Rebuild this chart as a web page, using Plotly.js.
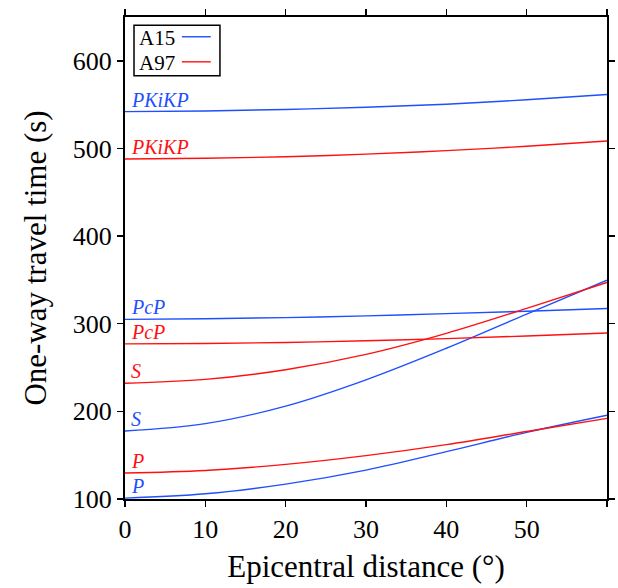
<!DOCTYPE html>
<html>
<head>
<meta charset="utf-8">
<script src="https://cdn.plot.ly/plotly-3.0.1.min.js"></script>
<style>html,body{margin:0;padding:0;background:#fff;}#chart{width:618px;height:588px;}</style>
</head>
<body>
<div id="chart"></div>
<script>
// Epicentral distance (degrees)
const distance = [0, 10, 20, 30, 40, 50, 60];

// One-way travel times (s), model A15
const a15_P      = [101, 106, 117, 133, 154, 176, 195.5];
const a15_S      = [177.6, 186, 206, 236, 272, 311, 349.6];
const a15_PcP    = [305, 305.6, 307, 309, 311.5, 314.3, 317.3];
const a15_PKiKP  = [542, 542.8, 544.5, 547, 550.5, 555.5, 561.5];

// One-way travel times (s), model A97
const a97_P      = [129.7, 132.5, 139.5, 149.5, 162, 177, 192];
const a97_S      = [232, 236.5, 247.5, 265, 289, 317.5, 347];
const a97_PcP    = [277, 277.4, 278.6, 280.5, 283, 286, 289.5];
const a97_PKiKP  = [488, 488.8, 490.5, 493.5, 497.5, 502.5, 508.5];

const models = ['A15', 'A97'];
const phases = ['PKiKP', 'PcP', 'S', 'P'];

const xTicks = [0, 10, 20, 30, 40, 50, 60];
const yTicks = [100, 200, 300, 400, 500, 600];

const BLUE = '#1f4fff';
const RED = '#ff1010';
const FONT = 'Liberation Serif';

const seriesData = {
  A15: {PKiKP: a15_PKiKP, PcP: a15_PcP, S: a15_S, P: a15_P, color: BLUE},
  A97: {PKiKP: a97_PKiKP, PcP: a97_PcP, S: a97_S, P: a97_P, color: RED}
};

const traces = [];
const annotations = [];
models.forEach(m => {
  phases.forEach(ph => {
    const ys = seriesData[m][ph];
    traces.push({
      x: distance, y: ys, type: 'scatter', mode: 'lines',
      line: {color: seriesData[m].color, width: 1.4, shape: 'spline', smoothing: 1},
      name: m + ' ' + ph, showlegend: false, hoverinfo: 'skip'
    });
    annotations.push({
      x: distance[0], y: ys[0], xref: 'x', yref: 'y',
      text: '<i>' + ph + '</i>', showarrow: false,
      xanchor: 'left', yanchor: 'bottom', xshift: 4, yshift: -1,
      font: {family: FONT, size: 20, color: seriesData[m].color, style: 'italic'}
    });
  });
});

// manual legend (text on left, line sample on right)
const legX0 = 0.0187, legX1 = 0.197, legY0 = 0.878, legY1 = 0.983;
const shapes = [
  {type: 'rect', xref: 'paper', yref: 'paper', x0: legX0, x1: legX1, y0: legY0, y1: legY1,
   line: {color: '#000', width: 1.5}, fillcolor: '#fff'}
];
const legRows = [0.955, 0.903];
models.forEach((m, i) => {
  annotations.push({
    x: 0.025, y: legRows[i] + 0.002, xref: 'paper', yref: 'paper', text: m, showarrow: false,
    xanchor: 'left', yanchor: 'middle', font: {family: FONT, size: 21, color: '#000'}
  });
  shapes.push({type: 'line', xref: 'paper', yref: 'paper', x0: 0.118, x1: 0.178,
    y0: legRows[i] + 0.004, y1: legRows[i] + 0.004, line: {color: seriesData[m].color, width: 1.4}});
});

const axisCommon = {
  showgrid: false, zeroline: false, showline: true, linecolor: '#000', linewidth: 2,
  mirror: 'allticks', ticks: 'outside', ticklen: 6, tickwidth: 1.5, tickcolor: '#000',
  tickfont: {family: FONT, size: 26, color: '#000'}
};

const layout = {
  width: 618, height: 588,
  margin: {l: 125, r: 11, t: 17, b: 89},
  paper_bgcolor: '#fff', plot_bgcolor: '#fff',
  font: {family: FONT, color: '#000'},
  showlegend: false,
  xaxis: Object.assign({}, axisCommon, {
    range: [0, 60], tickvals: xTicks, ticktext: xTicks.map(String),
    title: {text: 'Epicentral distance (°)', font: {family: FONT, size: 31, color: '#000'}, standoff: 12}
  }),
  yaxis: Object.assign({}, axisCommon, {
    range: [100, 650], tickvals: yTicks, ticktext: yTicks.map(String),
    title: {text: 'One-way travel time (s)', font: {family: FONT, size: 31, color: '#000'}, standoff: 17}
  }),
  annotations: annotations,
  shapes: shapes
};

Plotly.newPlot('chart', traces, layout, {staticPlot: true, displayModeBar: false});
</script>
</body>
</html>
